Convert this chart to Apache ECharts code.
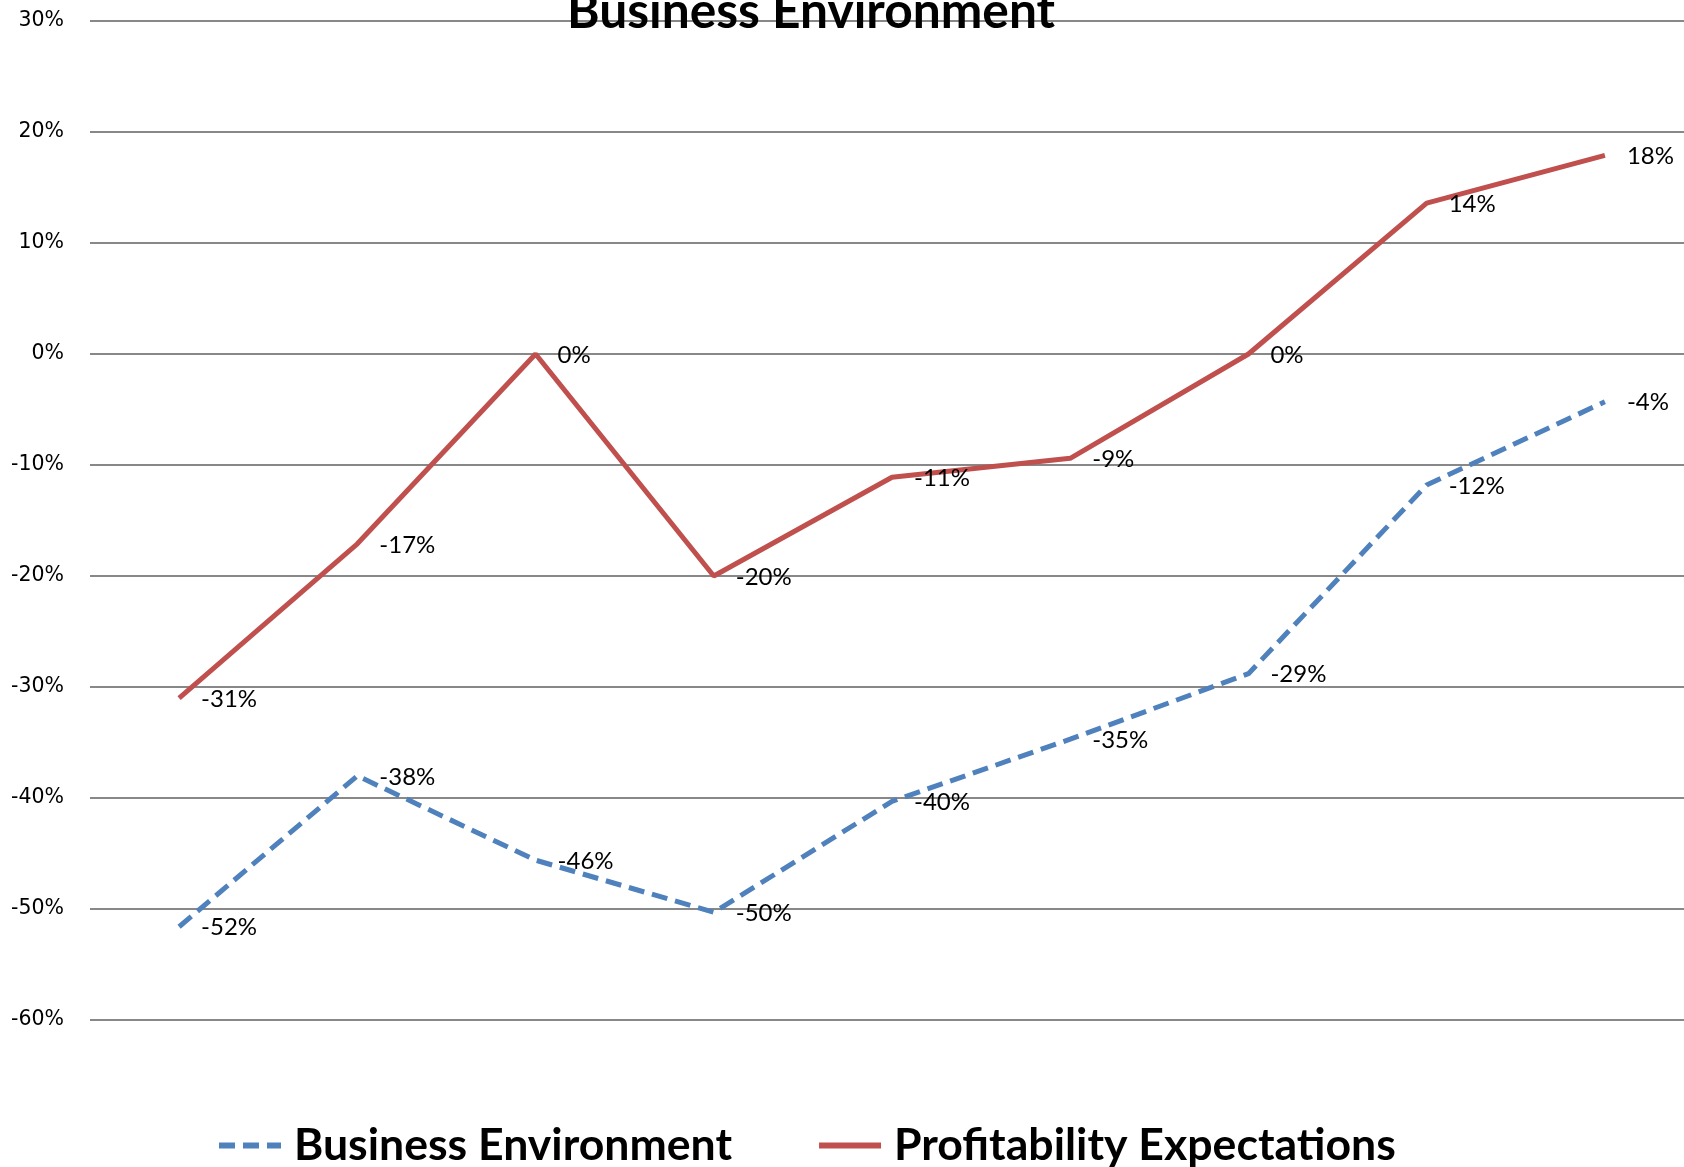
<!DOCTYPE html>
<html>
<head>
<meta charset="utf-8">
<script src="https://cdn.jsdelivr.net/npm/echarts@6/dist/echarts.min.js"></script>
<style>
html,body{margin:0;padding:0;background:#fff;}
#chart{width:1684px;height:1167px;}
</style>
</head>
<body>
<div id="chart"></div>
<script>
const categories = ['P1','P2','P3','P4','P5','P6','P7','P8','P9'];
const businessEnvironment = [-51.6, -38.0, -45.6, -50.3, -40.3, -34.7, -28.8, -11.8, -4.3];
const profitabilityExpectations = [-31.0, -17.1, 0.0, -20.0, -11.1, -9.4, 0.0, 13.6, 17.9];
const yTicks = [-60, -50, -40, -30, -20, -10, 0, 10, 20, 30];

const chart = echarts.init(document.getElementById('chart'), null, {renderer: 'canvas'});
const labelStyle = {
  show: true,
  position: 'right',
  distance: 22,
  offset: [0, 1],
  color: '#000',
  fontFamily: 'Lato',
  fontSize: 24,
  formatter: p => Math.round(p.value) + '%'
};
chart.setOption({
  animation: false,
  backgroundColor: '#fff',
  title: {
    text: 'Business Environment',
    left: 806,
    textAlign: 'center',
    top: -18,
    textStyle: {fontFamily: 'Lato', fontWeight: 'bold', fontSize: 49.7, color: '#000'}
  },
  legend: {
    left: 211,
    top: 1118,
    itemWidth: 62,
    itemHeight: 20,
    itemGap: 84,
    itemStyle: {opacity: 0},
    lineStyle: {width: 6},
    textStyle: {fontFamily: 'Lato', fontWeight: 'bold', fontSize: 44.6, color: '#000', padding: [0, 0, 0, 8]},
    data: ['Business Environment', 'Profitability Expectations']
  },
  grid: {left: 90, right: -10, top: 21, bottom: 147, containLabel: false, outerBoundsMode: 'none'},
  xAxis: {
    type: 'category',
    data: categories,
    boundaryGap: true,
    axisLine: {show: false},
    axisTick: {show: false},
    axisLabel: {show: false},
    splitLine: {show: false}
  },
  yAxis: {
    type: 'value',
    min: yTicks[0],
    max: yTicks[yTicks.length - 1],
    interval: 10,
    axisLine: {show: false},
    axisTick: {show: false},
    axisLabel: {
      formatter: v => v + '%',
      fontFamily: 'DejaVu Sans',
      fontSize: 20.5,
      color: '#000',
      margin: 26
    },
    splitLine: {lineStyle: {color: '#888', width: 2}}
  },
  series: [
    {
      name: 'Business Environment',
      type: 'line',
      data: businessEnvironment,
      symbol: 'circle',
      symbolSize: 0,
      showSymbol: true,
      color: '#4F81BD',
      lineStyle: {color: '#4F81BD', width: 5, type: [16, 8]},
      label: labelStyle
    },
    {
      name: 'Profitability Expectations',
      type: 'line',
      data: profitabilityExpectations,
      symbol: 'circle',
      symbolSize: 0,
      showSymbol: true,
      color: '#C0504D',
      lineStyle: {color: '#C0504D', width: 5},
      label: labelStyle
    }
  ]
});
</script>
</body>
</html>
